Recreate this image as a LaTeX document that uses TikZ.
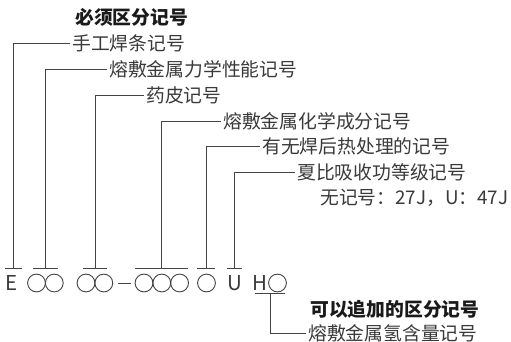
\documentclass[tikz,border=0pt]{standalone}
\usepackage{fontspec}
\setmainfont{Noto Sans CJK SC}
\definecolor{txt}{HTML}{3A3A3A}
\definecolor{hd}{HTML}{1A1A1A}
\definecolor{ln}{HTML}{444444}
\begin{document}
\begin{tikzpicture}[x=1pt,y=-1pt,
  lab/.style={anchor=west,inner xsep=2pt,inner ysep=0pt,text=txt,font=\fontsize{18.8}{20}\selectfont},
  head/.style={anchor=west,inner xsep=2pt,inner ysep=0pt,text=hd,font=\fontsize{18.8}{20}\selectfont\bfseries},
  sym/.style={text=txt,inner sep=0pt,font=\fontsize{20.5}{22}\selectfont},
  ring/.style={circle,draw=ln,line width=0.9pt,minimum size=17.8pt,inner sep=0pt},
  conn/.style={draw=ln,line width=0.9pt},
]
\useasboundingbox[fill=white] (0,0) rectangle (511,342);

% headings
\node[head] (h1) at (73,17) {必须区分记号};
\node[head] (h2) at (308,309) {可以追加的区分记号};

% labels
\node[lab] (l1) at (70,43.5) {手工焊条记号};
\node[lab] (l2) at (107,69.3) {熔敷金属力学性能记号};
\node[lab] (l3) at (144,95.1) {药皮记号};
\node[lab] (l4) at (221,121) {熔敷金属化学成分记号};
\node[lab] (l5) at (260,146.7) {有无焊后热处理的记号};
\node[lab] (l6) at (295,172.5) {夏比吸收功等级记号};
\node[lab] (l7) at (318,198.3) {无记号：27J，U：47J};
\node[lab] (l8) at (306,333.5) {熔敷金属氢含量记号};

% symbol row
\node[sym] (e) at (12,283) {E};
\node[ring] (c1) at (36.5,283) {};
\node[ring] (c2) at (54.3,283) {};
\node[ring] (c3) at (86,283) {};
\node[ring] (c4) at (103.8,283) {};
\node[ring] (c5) at (144,283) {};
\node[ring] (c6) at (161.8,283) {};
\node[ring] (c7) at (179.6,283) {};
\node[ring] (c8) at (206.5,283) {};
\node[sym] (u) at (235,283) {U};
\node[sym] (hh) at (260,283) {H};
\node[ring] (c9) at (277.5,283) {};
\draw[conn] ([xshift=5pt]c4.east) -- ([xshift=-4pt]c5.west);

% bars
\coordinate (b0) at (13.5,268);
\coordinate (b1) at (45.5,268);
\coordinate (b2) at (95,268);
\coordinate (b3) at (161.5,268);
\coordinate (b4) at (206,268);
\coordinate (b5) at (234.5,268);
\coordinate (b6) at (270,293);
\draw[conn] (5,268) -- (22,268);
\draw[conn] (33,268) -- (58,268);
\draw[conn] (83,268) -- (107,268);
\draw[conn] (135,268) -- (188,268);
\draw[conn] (197,268) -- (215,268);
\draw[conn] (227,268) -- (242,268);
\draw[conn] (255,293) -- (285,293);

% connectors
\draw[conn] (l1.west) -| (b0);
\draw[conn] (l2.west) -| (b1);
\draw[conn] (l3.west) -| (b2);
\draw[conn] (l4.west) -| (b3);
\draw[conn] (l5.west) -| (b4);
\draw[conn] (l6.west) -| (b5);
\draw[conn] (b6) |- (l8.west);
\end{tikzpicture}
\end{document}
